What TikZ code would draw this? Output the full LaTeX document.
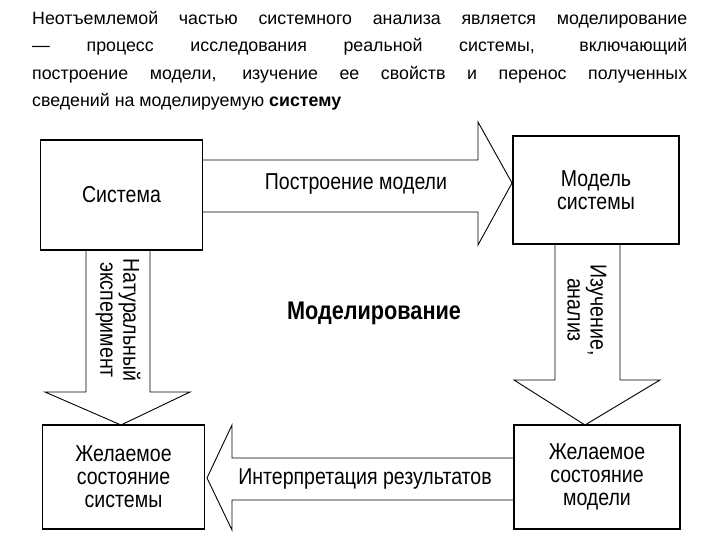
\documentclass[tikz,border=0pt]{standalone}
\usepackage{fontspec}
\setmainfont{Liberation Sans}
\newfontfamily\narrowf[FakeStretch=0.85]{Liberation Sans}
\begin{document}
\begin{tikzpicture}[x=1pt,y=-1pt,
  box/.style={draw,line width=1.2pt,fill=white},
  lbl/.style={font=\narrowf\fontsize{23}{23}\selectfont,align=center},
  arr/.style={draw,line width=0.9pt,line join=miter}]
\useasboundingbox (0,0) rectangle (720,540);
\node[anchor=north west,text width=655,align=justify,inner sep=0,font=\fontsize{17.8}{27.5}\selectfont] (title) at (32,11)
{Неотъемлемой частью системного анализа является моделирование\linebreak — процесс исследования реальной системы, включающий\linebreak построение модели, изучение ее свойств и перенос полученных\linebreak сведений на моделируемую \textbf{систему}};
% arrows
\draw[arr] (203,160) -- (478,160) -- (478,122) -- (512,183) -- (478,245) -- (478,212) -- (203,212);
\draw[arr] (514,458) -- (232,458) -- (232,425) -- (207,478) -- (232,530) -- (232,500) -- (514,500);
\draw[arr] (86,250) -- (86,392) -- (45,392) -- (121,425) -- (190,392) -- (150,392) -- (150,250);
\draw[arr] (555,245) -- (555,380) -- (514,380) -- (585,425) -- (660,380) -- (620,380) -- (620,245);
% boxes
\node[box,minimum width=162,minimum height=110] (s) at (121.5,195) {};
\node[lbl] at (s) {Система};
\node[box,minimum width=166,minimum height=108] (m) at (596,190) {};
\node[lbl] at (m) {Модель\\системы};
\node[box,minimum width=162,minimum height=104] (ds) at (123.5,477) {};
\node[lbl] at (ds) {Желаемое\\состояние\\системы};
\node[box,minimum width=166,minimum height=104] (dm) at (597,477) {};
\node[lbl] at (dm) {Желаемое\\состояние\\модели};
\node[lbl] (t1) at (356,184) {Построение модели};
\node[lbl] (t2) at (365,479) {Интерпретация результатов};
\node[lbl,rotate=-90] (t3) at (118,320) {Натуральный\\эксперимент};
\node[lbl,rotate=-90] (t4) at (587,310) {Изучение,\\анализ};
\node[lbl,font=\narrowf\bfseries\fontsize{25.5}{25}\selectfont] (c) at (374,313) {Моделирование};
\end{tikzpicture}
\end{document}
